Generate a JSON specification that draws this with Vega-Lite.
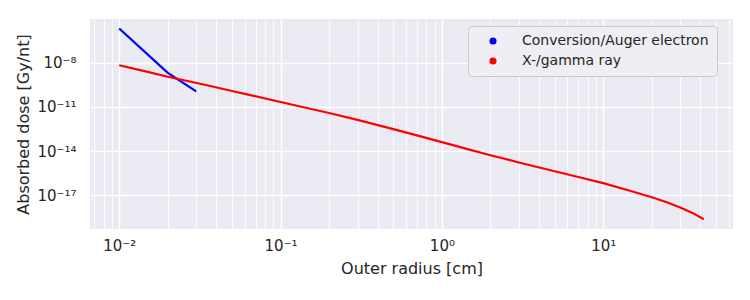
{
  "$schema": "https://vega.github.io/schema/vega-lite/v6.json",
  "autosize": {"type": "none"},
  "padding": {"left": 90, "top": 19, "right": 17, "bottom": 71},
  "width": 643,
  "height": 210,
  "background": "white",
  "config": {
    "font": "DejaVu Sans",
    "view": {"fill": "#EAEAF2", "stroke": null},
    "axis": {"labelColor": "#262626", "titleColor": "#262626", "domain": false, "ticks": false, "gridColor": "white", "labelFont": "DejaVu Sans", "titleFont": "DejaVu Sans", "titleFontWeight": "normal"},
    "legend": {"labelFont": "DejaVu Sans", "labelColor": "#262626"}
  },
  "data": {
    "values": [
      {"r": 0.01, "dose": 2.19e-6, "type": "Conversion/Auger electron"},
      {"r": 0.02, "dose": 2.09e-9, "type": "Conversion/Auger electron"},
      {"r": 0.03, "dose": 1.15e-10, "type": "Conversion/Auger electron"},
      {"r": 0.01, "dose": 6.92e-9, "type": "X-/gamma ray"},
      {"r": 0.015, "dose": 2.45e-9, "type": "X-/gamma ray"},
      {"r": 0.02, "dose": 1.15e-9, "type": "X-/gamma ray"},
      {"r": 0.035, "dose": 3.02e-10, "type": "X-/gamma ray"},
      {"r": 0.05, "dose": 1.23e-10, "type": "X-/gamma ray"},
      {"r": 0.065, "dose": 6.46e-11, "type": "X-/gamma ray"},
      {"r": 0.1, "dose": 2.19e-11, "type": "X-/gamma ray"},
      {"r": 0.15, "dose": 7.94e-12, "type": "X-/gamma ray"},
      {"r": 0.2, "dose": 3.89e-12, "type": "X-/gamma ray"},
      {"r": 0.3, "dose": 1.32e-12, "type": "X-/gamma ray"},
      {"r": 0.5, "dose": 3.09e-13, "type": "X-/gamma ray"},
      {"r": 0.7, "dose": 1.17e-13, "type": "X-/gamma ray"},
      {"r": 1, "dose": 4.07e-14, "type": "X-/gamma ray"},
      {"r": 1.5, "dose": 1.2e-14, "type": "X-/gamma ray"},
      {"r": 2, "dose": 5.13e-15, "type": "X-/gamma ray"},
      {"r": 3, "dose": 1.66e-15, "type": "X-/gamma ray"},
      {"r": 5, "dose": 4.17e-16, "type": "X-/gamma ray"},
      {"r": 7, "dose": 1.7e-16, "type": "X-/gamma ray"},
      {"r": 10, "dose": 6.46e-17, "type": "X-/gamma ray"},
      {"r": 15, "dose": 1.82e-17, "type": "X-/gamma ray"},
      {"r": 20, "dose": 7.08e-18, "type": "X-/gamma ray"},
      {"r": 25, "dose": 3.09e-18, "type": "X-/gamma ray"},
      {"r": 30, "dose": 1.45e-18, "type": "X-/gamma ray"},
      {"r": 36, "dose": 5.89e-19, "type": "X-/gamma ray"},
      {"r": 42, "dose": 2.29e-19, "type": "X-/gamma ray"}
    ]
  },
  "mark": {"type": "line", "strokeWidth": 2.2, "clip": true},
  "encoding": {
    "x": {
      "field": "r", "type": "quantitative",
      "scale": {"type": "log", "domain": [0.00659, 63.7], "nice": false, "zero": false},
      "axis": {
        "title": "Outer radius [cm]", "titleFontSize": 16, "titlePadding": 7,
        "labelFontSize": 15, "labelPadding": 9, "labelOverlap": false, "labelFlush": false,
        "values": [0.007, 0.008, 0.009, 0.01, 0.02, 0.03, 0.04, 0.05, 0.06, 0.07, 0.08, 0.09, 0.1, 0.2, 0.3, 0.4, 0.5, 0.6, 0.7, 0.8, 0.9, 1, 2, 3, 4, 5, 6, 7, 8, 9, 10, 20, 30, 40, 50, 60],
        "labelExpr": "datum.value == 0.01 ? '10⁻²' : datum.value == 0.1 ? '10⁻¹' : datum.value == 1 ? '10⁰' : datum.value == 10 ? '10¹' : ''",
        "gridWidth": {"condition": {"test": "datum.value == 0.01 || datum.value == 0.1 || datum.value == 1 || datum.value == 10", "value": 1.5}, "value": 0.8}
      }
    },
    "y": {
      "field": "dose", "type": "quantitative",
      "scale": {"type": "log", "domain": [4.9e-20, 9.8e-6], "nice": false, "zero": false},
      "axis": {
        "title": "Absorbed dose [Gy/nt]", "titleFontSize": 16, "titlePadding": 5,
        "labelFontSize": 15, "labelPadding": 14, "labelOverlap": false,
        "values": [1e-17, 1e-14, 1e-11, 1e-8],
        "labelExpr": "datum.value == 1e-8 ? '10⁻⁸' : datum.value == 1e-11 ? '10⁻¹¹' : datum.value == 1e-14 ? '10⁻¹⁴' : '10⁻¹⁷'",
        "gridWidth": 1.5
      }
    },
    "color": {
      "field": "type", "type": "nominal",
      "scale": {"domain": ["Conversion/Auger electron", "X-/gamma ray"], "range": ["#0000FF", "#FF0000"]},
      "legend": {
        "title": null, "orient": "none", "legendX": 378, "legendY": 7,
        "symbolType": "circle", "symbolSize": 50, "labelFontSize": 14, "labelLimit": 400,
        "labelOffset": 22, "rowPadding": 6, "padding": 8, "symbolOffset": 10,
        "fillColor": "#EEEEF4", "strokeColor": "#CCCCCC", "cornerRadius": 4,
        "encode": {"symbols": {"update": {"fill": {"scale": "color", "field": "value"}, "strokeWidth": {"value": 0}}}}
      }
    }
  }
}
